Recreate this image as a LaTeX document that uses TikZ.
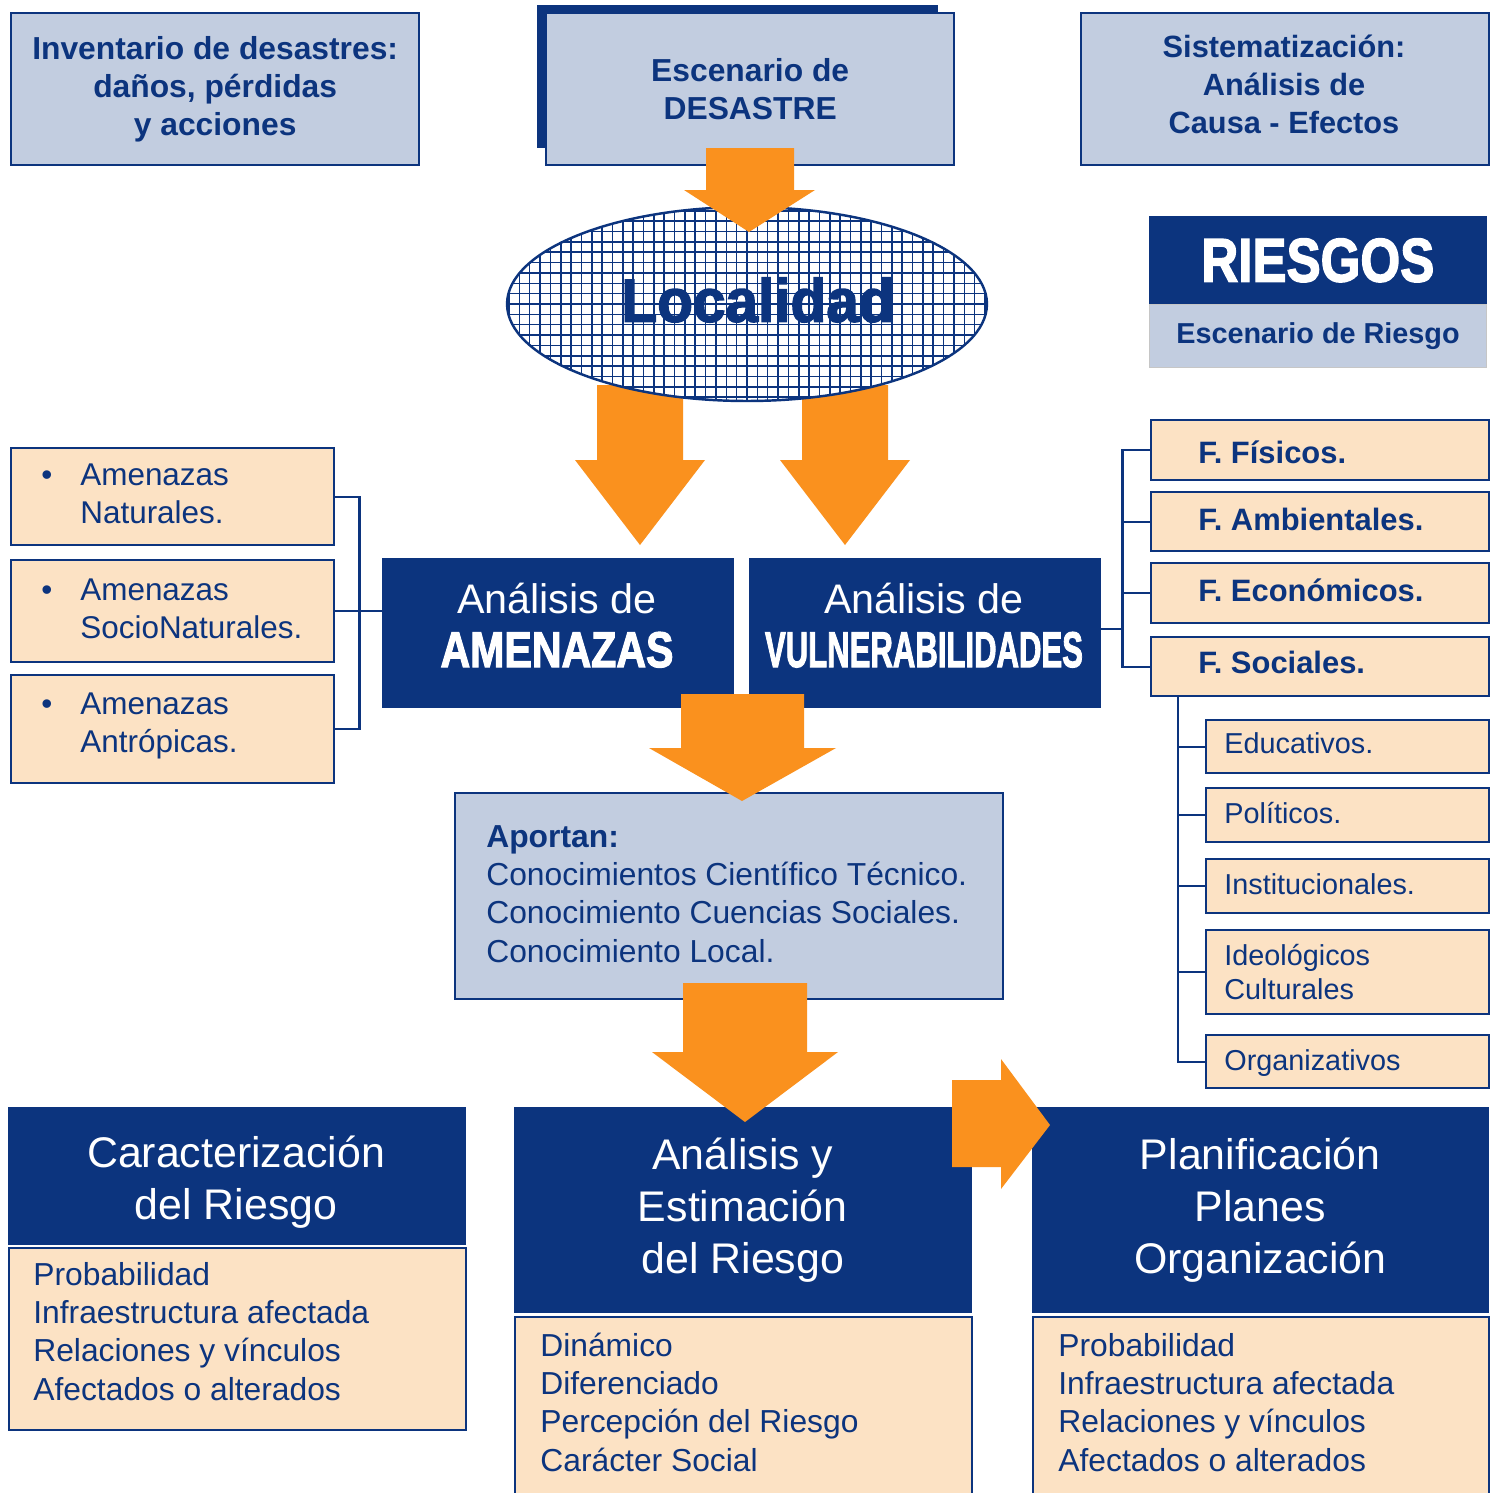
\documentclass[tikz,border=0pt]{standalone}
\usepackage{fontspec}
\setmainfont{Liberation Sans}
\newfontfamily\heavyfont{Liberation Sans}[UprightFont=* Bold, FakeBold=2.5]
\usetikzlibrary{shapes.geometric}
\definecolor{navy}{RGB}{12,52,126}
\definecolor{greyblue}{RGB}{194,205,224}
\definecolor{peach}{RGB}{252,226,196}
\definecolor{orangearrow}{RGB}{250,145,30}
\newcommand{\heavy}[3]{\resizebox{#1}{#2}{\heavyfont #3}}

\begin{document}
\begin{tikzpicture}[x=0.02cm, y=-0.02cm,
  lbox/.style={draw=navy, fill=greyblue, line width=1.4pt, text=navy, align=center, anchor=north west, inner sep=0pt, font=\bfseries\fontsize{18.1}{21.6}\selectfont},
  pbox/.style={draw=navy, fill=peach, line width=1.4pt, anchor=north west, inner sep=0pt},
  dbox/.style={draw=navy, fill=navy, text=white, align=center, anchor=north west, inner sep=0pt, font=\fontsize{24.4}{29.7}\selectfont},
  ptext/.style={text=navy, anchor=base west, align=left, inner sep=0pt, font=\fontsize{18.1}{21.7}\selectfont},
  ftext/.style={text=navy, anchor=base west, inner sep=0pt, font=\bfseries\fontsize{17.6}{21}\selectfont},
  stext/.style={text=navy, anchor=base west, align=left, inner sep=0pt, font=\fontsize{16.4}{19.3}\selectfont},
  atext/.style={text=navy, anchor=base west, align=left, inner sep=0pt, font=\fontsize{17.9}{21.5}\selectfont},
  blockarrow/.style={fill=orangearrow},
  link/.style={draw=navy, line width=1.4pt}]
\useasboundingbox (0,0) rectangle (1497,1492);
\fill[white] (0,0) rectangle (1497,1492);

\node[lbox, minimum width=8.16cm, minimum height=3.04cm] (inv) at (10,12) {Inventario de desastres:\\daños, pérdidas\\y acciones};
\node[fill=navy, anchor=north west, inner sep=0pt, minimum width=8.02cm, minimum height=2.86cm] (escs) at (537,5) {};
\node[lbox, minimum width=8.16cm, minimum height=3.04cm] (esc) at (545,12) {Escenario de\\DESASTRE};
\node[lbox, minimum width=8.16cm, minimum height=3.04cm] (sis) at (1080,12) {};
\node[text=navy, align=center, inner sep=0pt, font=\bfseries\fontsize{17.5}{21.6}\selectfont] (sist) at (1284,84) {Sistematización:\\Análisis de\\Causa - Efectos};

\node[dbox, minimum width=6.74cm, minimum height=1.76cm] (ries) at (1149,216) {\heavy{4.66cm}{0.86cm}{RIESGOS}};
\node[lbox, draw=gray!45, line width=0.6pt, minimum width=6.74cm, minimum height=1.26cm, font=\bfseries\fontsize{16.4}{19}\selectfont] (riesc) at (1149,304) {Escenario de Riesgo};

\node[pbox, minimum width=6.46cm, minimum height=1.94cm] (nat) at (10,447) {};
\node[pbox, minimum width=6.46cm, minimum height=2.04cm] (soc) at (10,559) {};
\node[pbox, minimum width=6.46cm, minimum height=2.16cm] (ant) at (10,674) {};
\node[atext] (natb) at (41,485) {\textbullet};
\node[atext] (natt) at (80,523) {Amenazas\\Naturales.};
\node[atext] (socb) at (41,600) {\textbullet};
\node[atext] (soct) at (80,638) {Amenazas\\SocioNaturales.};
\node[atext] (antb) at (41,714) {\textbullet};
\node[atext] (antt) at (80,752) {Amenazas\\Antrópicas.};

\node[dbox, minimum width=7.02cm, minimum height=2.98cm] (ame) at (382,558) {};
\node[text=white, anchor=base, inner sep=0pt, font=\fontsize{23.5}{28}\selectfont] (amet) at (557,613) {Análisis de};
\node[text=white, anchor=base, inner sep=0pt] (amen) at (557,667) {\heavy{4.66cm}{0.70cm}{AMENAZAS}};
\node[dbox, minimum width=7.02cm, minimum height=2.98cm] (vul) at (749,558) {};
\node[text=white, anchor=base, inner sep=0pt, font=\fontsize{23.5}{28}\selectfont] (vult) at (924,613) {Análisis de};
\node[text=white, anchor=base, inner sep=0pt] (vuln) at (924,667) {\heavy{6.36cm}{0.70cm}{VULNERABILIDADES}};

\node[pbox, minimum width=6.76cm, minimum height=1.2cm] (fis) at (1150,419) {};
\node[pbox, minimum width=6.76cm, minimum height=1.18cm] (amb) at (1150,491) {};
\node[pbox, minimum width=6.76cm, minimum height=1.2cm] (eco) at (1150,562) {};
\node[pbox, minimum width=6.76cm, minimum height=1.18cm] (soci) at (1150,636) {};
\node[ftext] (fist) at (1198,463) {F. Físicos.};
\node[ftext] (ambt) at (1198,530) {F. Ambientales.};
\node[ftext] (ecot) at (1198,601) {F. Económicos.};
\node[ftext] (socit) at (1198,673) {F. Sociales.};

\node[pbox, minimum width=5.66cm, minimum height=1.06cm] (edu) at (1205,719) {};
\node[pbox, minimum width=5.66cm, minimum height=1.08cm] (pol) at (1205,787) {};
\node[pbox, minimum width=5.66cm, minimum height=1.08cm] (ins) at (1205,858) {};
\node[pbox, minimum width=5.66cm, minimum height=1.68cm] (ide) at (1205,929) {};
\node[pbox, minimum width=5.66cm, minimum height=1.06cm] (org) at (1205,1034) {};
\node[stext] (edut) at (1224,753) {Educativos.};
\node[stext] (polt) at (1224,823) {Políticos.};
\node[stext] (inst) at (1224,894) {Institucionales.};
\node[stext] (idet) at (1224,999) {Ideológicos\\Culturales};
\node[stext] (orgt) at (1224,1070) {Organizativos};

\node[lbox, minimum width=10.96cm, minimum height=4.12cm] (apo) at (454,792) {};
\node[ptext] (apot) at (486,962) {\textbf{Aportan:}\\Conocimientos Científico Técnico.\\Conocimiento Cuencias Sociales.\\Conocimiento Local.};

\node[dbox, minimum width=9.14cm, minimum height=2.74cm] (car) at (8,1107) {};
\node[text=white, align=center, inner sep=0pt, font=\fontsize{24.4}{29.7}\selectfont] (cart) at (236,1182) {Caracterización\\del Riesgo};
\node[pbox, minimum width=9.14cm, minimum height=3.64cm] (carp) at (8,1247) {};
\node[ptext] (carpt) at (33,1400) {Probabilidad\\Infraestructura afectada\\Relaciones y vínculos\\Afectados o alterados};
\node[dbox, minimum width=9.14cm, minimum height=4.1cm] (est) at (514,1107) {Análisis y\\Estimación\\del Riesgo};
\node[pbox, minimum width=9.14cm, minimum height=3.68cm] (estp) at (514,1316) {};
\node[ptext] (estpt) at (540,1471) {Dinámico\\Diferenciado\\Percepción del Riesgo\\Carácter Social};
\node[dbox, minimum width=9.12cm, minimum height=4.1cm] (pla) at (1032,1107) {Planificación\\Planes\\Organización};
\node[pbox, minimum width=9.12cm, minimum height=3.68cm] (plap) at (1032,1316) {};
\node[ptext] (plapt) at (1058,1471) {Probabilidad\\Infraestructura afectada\\Relaciones y vínculos\\Afectados o alterados};

\draw[link] (nat.east) -- ++(24,0) |- (ant.east);
\draw[link] (soc.east) -- (soc.east -| ame.west);
\path (vul.east) ++(22,-4) coordinate (rb);
\draw[link] (vul.east |- rb) -- (rb);
\draw[link] (fis.west) -- (fis.west -| rb) -- (soci.west -| rb) -- (soci.west);
\draw[link] (amb.west) -- (amb.west -| rb);
\draw[link] (eco.west) -- (eco.west -| rb);
\path (soci.south west) ++(28,0) coordinate (sb);
\draw[link] (sb) |- (org.west);
\draw[link] (edu.west -| sb) -- (edu.west);
\draw[link] (pol.west -| sb) -- (pol.west);
\draw[link] (ins.west -| sb) -- (ins.west);
\draw[link] (ide.west -| sb) -- (ide.west);

\fill[blockarrow] (597,385) -- (683,385) -- (683,460) -- (705,460) -- (640,545) -- (575,460) -- (597,460) -- cycle;
\fill[blockarrow] (802,385) -- (888,385) -- (888,460) -- (910,460) -- (845,545) -- (780,460) -- (802,460) -- cycle;
\node[ellipse, draw=navy, line width=1.4pt, fill=white, inner sep=0pt, minimum width=9.6cm, minimum height=3.88cm,
  path picture={\draw[navy, line width=0.9pt, step=0.207cm] (path picture bounding box.south west) grid (path picture bounding box.north east);}] (loc) at (747,304) {};
\node[text=navy, inner sep=0pt] (loct) at (758,300) {\heavy{5.46cm}{0.88cm}{Localidad}};
\fill[blockarrow] (706,148) -- (794,148) -- (794,190) -- (815,190) -- (749,232) -- (684,190) -- (706,190) -- cycle;
\fill[blockarrow] (681,694) -- (804,694) -- (804,748) -- (836,748) -- (742,801) -- (649,748) -- (681,748) -- cycle;
\fill[blockarrow] (683,983) -- (807,983) -- (807,1052) -- (838,1052) -- (745,1122) -- (652,1052) -- (683,1052) -- cycle;
\fill[blockarrow] (952,1080) -- (1001,1080) -- (1001,1059) -- (1050,1125) -- (1001,1189) -- (1001,1167) -- (952,1167) -- cycle;
\end{tikzpicture}
\end{document}
